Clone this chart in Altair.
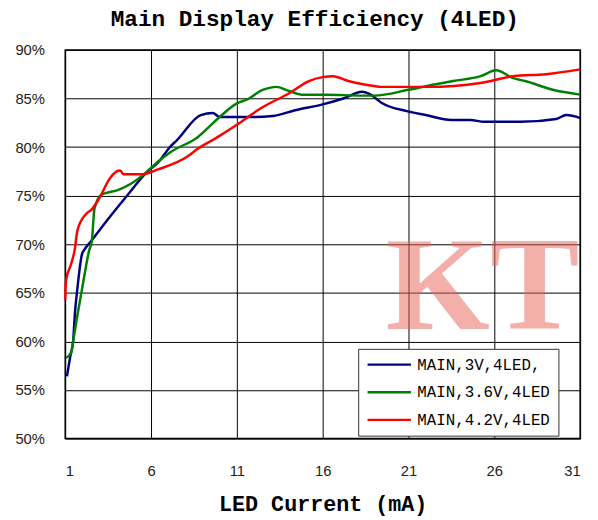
import altair as alt
import pandas as pd

# ---- data ----
series_names = ["MAIN,3V,4LED,", "MAIN,3.6V,4LED", "MAIN,4.2V,4LED"]
series_colors = ["#000080", "#008000", "#FF0000"]

blue_x = [1.1, 1.3, 1.46, 1.57, 1.7, 1.98, 2.1, 2.5, 3.5, 4.6, 5.8, 6.4, 7.15, 7.5, 8.9, 9.6, 10.0, 11, 12, 13.1, 14.4, 16, 17.2, 18.3, 18.8, 19.4, 20.9, 22, 23.5, 24.6, 25.4, 27.5, 29.6, 30.2, 31]
blue_y = [56.4, 58.5, 60.0, 63.0, 65.3, 69.0, 69.4, 70.3, 72.6, 75.0, 77.5, 78.4, 80.1, 80.7, 83.3, 83.5, 83.1, 83.1, 83.1, 83.2, 83.8, 84.4, 85.0, 85.7, 85.4, 84.6, 83.7, 83.3, 82.8, 82.8, 82.6, 82.6, 82.9, 83.3, 83.0]

green_x = [1.05, 1.35, 1.46, 1.7, 2.0, 2.4, 2.55, 2.7, 3.1, 4.1, 4.8, 5.65, 6.4, 7.15, 8.7, 10.0, 11.0, 11.6, 12.5, 12.9, 13.3, 14.0, 14.8, 16.2, 18.3, 19.0, 21.0, 22.1, 23.6, 25.2, 26.1, 27.1, 27.8, 29.4, 31]
green_y = [58.3, 58.9, 60.0, 62.6, 65.6, 69.4, 70.3, 73.6, 75.1, 75.6, 76.2, 77.3, 78.5, 79.5, 81.0, 83.1, 84.5, 84.9, 85.9, 86.1, 86.2, 85.8, 85.4, 85.4, 85.3, 85.3, 85.9, 86.3, 86.8, 87.3, 87.9, 87.1, 86.8, 85.9, 85.4]

red_x = [1.0, 1.05, 1.35, 1.55, 1.71, 2.2, 2.55, 3.07, 3.5, 4.0, 4.2, 4.4, 5.5, 6.4, 8.1, 8.7, 9.85, 11, 12.4, 14.1, 15.2, 16, 16.6, 17.5, 18.6, 19.4, 22.1, 25.2, 27.1, 29, 31]
red_y = [64.3, 66.3, 68.0, 69.4, 71.4, 73.1, 73.6, 75.0, 76.5, 77.5, 77.6, 77.2, 77.2, 77.7, 79.0, 79.8, 81.0, 82.3, 84.0, 85.6, 86.8, 87.2, 87.3, 86.8, 86.4, 86.2, 86.2, 86.6, 87.3, 87.5, 88.0]

x_ticks = [1, 6, 11, 16, 21, 26, 31]
y_ticks = [0.50, 0.55, 0.60, 0.65, 0.70, 0.75, 0.80, 0.85, 0.90]

rows = []
for name, xs, ys in zip(series_names, [blue_x, green_x, red_x], [blue_y, green_y, red_y]):
    for i, (a, b) in enumerate(zip(xs, ys)):
        rows.append({"series": name, "x": a, "y": b / 100.0, "i": i})
df = pd.DataFrame(rows)

mono = "Liberation Mono"

lines = alt.Chart(df).mark_line(strokeWidth=2.5, interpolate="monotone").encode(
    x=alt.X("x:Q", scale=alt.Scale(domain=[1, 31], nice=False, zero=False),
            axis=alt.Axis(values=x_ticks, title="LED Current (mA)", format="d")),
    y=alt.Y("y:Q", scale=alt.Scale(domain=[0.5, 0.9], nice=False, zero=False),
            axis=alt.Axis(values=y_ticks, format=".0%", title=None)),
    color=alt.Color("series:N", scale=alt.Scale(domain=series_names, range=series_colors),
                    legend=alt.Legend(title=None, orient="none", legendX=297, legendY=303,
                                      symbolType="stroke", symbolSize=1936, symbolStrokeWidth=2.5,
                                      clipHeight=16,
                                      labelFont=mono, labelFontSize=16, labelLimit=400,
                                      labelOffset=5, rowPadding=12, padding=8,
                                      strokeColor="#333333", fillColor="white")),
    order="i:Q",
)

mark_df = pd.DataFrame({"t": ["KT"]})
watermark = alt.Chart(mark_df).mark_text(
    font="Liberation Serif", fontWeight="bold", fontSize=136, color="#E9645A",
    opacity=0.5, align="center", baseline="alphabetic"
).encode(text="t:N", x=alt.value(423), y=alt.value(283))

chart = alt.layer(watermark, lines).properties(
    width=522, height=394,
    autosize=alt.AutoSizeParams(type="none"),
    padding={"left": 58, "top": 39, "right": 10, "bottom": 80},
    title=alt.TitleParams("Main Display Efficiency (4LED)", font=mono, fontWeight="bold",
                          fontSize=23, color="black", anchor="middle", dx=-8, offset=12),
).configure_view(stroke="black", strokeWidth=1.5).configure_axis(
    grid=True, gridColor="black", gridOpacity=1, gridWidth=1,
    domain=False, ticks=False,
    labelFont="Liberation Sans", labelFontSize=15, labelColor="#222222",
    titleFont=mono, titleFontSize=22, titleFontWeight="bold", titleColor="black",
).configure_axisY(labelPadding=21).configure_axisX(labelPadding=25, titlePadding=16)

chart.save("out.html", embed_options={"renderer": "svg", "actions": False})
